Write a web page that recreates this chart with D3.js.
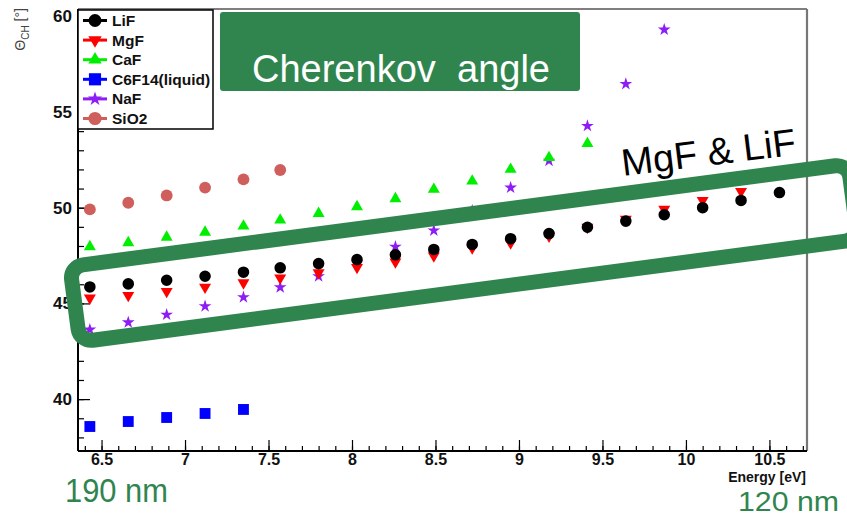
<!DOCTYPE html>
<html>
<head>
<meta charset="utf-8">
<script src="https://cdn.jsdelivr.net/npm/d3@7"></script>
<style>
  html, body { margin: 0; padding: 0; background: #fff; }
  svg { display: block; font-family: "Liberation Sans", Arial, Helvetica, sans-serif; }
  .bold { font-weight: bold; }
</style>
</head>
<body>
<svg id="chart" width="847" height="517"></svg>
<script>
// Photon energies (eV) of the sampled wavelengths
const energy = [6.43, 6.66, 6.89, 7.12, 7.35, 7.57, 7.80, 8.03, 8.26, 8.49,
                8.72, 8.95, 9.18, 9.41, 9.64, 9.87, 10.10, 10.33, 10.56];

// Cherenkov angle (degrees) per radiator, aligned with energy[]
const lifAngle   = [45.86, 46.02, 46.21, 46.42, 46.63, 46.86, 47.08, 47.29, 47.54, 47.82,
                    48.08, 48.38, 48.65, 48.98, 49.30, 49.63, 50.00, 50.38, 50.79];
const mgfAngle   = [45.28, 45.42, 45.63, 45.85, 46.08, 46.33, 46.60, 46.88, 47.17, 47.48,
                    47.90, 48.16, 48.52, 48.98, 49.40, 49.92, 50.38, 50.85];
const cafAngle   = [47.96, 48.17, 48.46, 48.72, 49.04, 49.35, 49.70, 50.05, 50.47, 50.96,
                    51.39, 52.00, 52.62, 53.35];
const c6f14Angle = [38.57, 38.83, 39.04, 39.25, 39.46];
const nafAngle   = [43.63, 44.01, 44.41, 44.85, 45.32, 45.84, 46.42, 47.15, 47.96, 48.81,
                    49.85, 51.05, 52.45, 54.27, 56.46, 59.30];
const sio2Angle  = [49.91, 50.26, 50.64, 51.05, 51.48, 51.97];

const legendNames = ["LiF", "MgF", "CaF", "C6F14(liquid)", "NaF", "SiO2"];

const xMajorTicks = [6.5, 7, 7.5, 8, 8.5, 9, 9.5, 10, 10.5];
const yMajorTicks = [40, 45, 50, 55, 60];

const xTitle = "Energy [eV]";
const titleText = ["Cherenkov", "angle"];
const bandText = "MgF & LiF";
const wlLow = "190 nm";
const wlHigh = "120 nm";

const GREEN = "#30854f";

const svg = d3.select("#chart");

// Frame geometry
const frameL = 78, frameR = 807, frameT = 9, frameB = 451;

const x = d3.scaleLinear().domain([6.359, 10.725]).range([frameL, frameR]);
const y = d3.scaleLinear().domain([37.29, 60.38]).range([frameB, frameT]);

// Series styling, in drawing order
const series = [
  { name: "SiO2", values: sio2Angle, color: "#cf5f5c", shape: d3.symbolCircle, size: 110, rot: 0 },
  { name: "C6F14(liquid)", values: c6f14Angle, color: "#0000ff", shape: d3.symbolSquare, size: 118, rot: 0 },
  { name: "NaF", values: nafAngle, color: "#8e1cf5", shape: d3.symbolStar, size: 50, rot: 0 },
  { name: "MgF", values: mgfAngle, color: "#ff0000", shape: d3.symbolTriangle, size: 62, rot: 180 },
  { name: "CaF", values: cafAngle, color: "#00ee00", shape: d3.symbolTriangle, size: 62, rot: 0 },
  { name: "LiF", values: lifAngle, color: "#000000", shape: d3.symbolCircle, size: 105, rot: 0 }
];

// Axes: minor ticks first, then labelled major ticks (ticks point inward)
const xMinor = d3.range(64, 108).map(v => v / 10);
const yMinor = d3.range(38, 61);

svg.append("g")
  .attr("transform", `translate(0,${frameB})`)
  .call(d3.axisBottom(x).tickValues(xMinor).tickSize(-5).tickFormat(""))
  .call(g => g.select(".domain").remove())
  .call(g => g.selectAll("line").attr("stroke", "#000").attr("stroke-width", 1.2));

svg.append("g")
  .attr("transform", `translate(${frameL},0)`)
  .call(d3.axisLeft(y).tickValues(yMinor).tickSize(-6).tickFormat(""))
  .call(g => g.select(".domain").remove())
  .call(g => g.selectAll("line").attr("stroke", "#000").attr("stroke-width", 1.2));

svg.append("g")
  .attr("transform", `translate(0,${frameB})`)
  .call(d3.axisBottom(x).tickValues(xMajorTicks).tickSize(-11).tickPadding(8)
        .tickFormat(d => String(d)))
  .call(g => g.select(".domain").remove())
  .call(g => g.selectAll("line").attr("stroke", "#000").attr("stroke-width", 1.2))
  .call(g => g.selectAll("text")
        .attr("class", "bold")
        .attr("font-family", "'Liberation Sans', Arial, sans-serif")
        .attr("font-size", 16).attr("fill", "#111")
        .attr("y", 3).attr("dy", "0.71em"));

svg.append("g")
  .attr("transform", `translate(${frameL},0)`)
  .call(d3.axisLeft(y).tickValues(yMajorTicks).tickSize(-12).tickPadding(6)
        .tickFormat(d => String(d)))
  .call(g => g.select(".domain").remove())
  .call(g => g.selectAll("line").attr("stroke", "#000").attr("stroke-width", 1.2))
  .call(g => g.selectAll("text")
        .attr("class", "bold")
        .attr("font-family", "'Liberation Sans', Arial, sans-serif")
        .attr("font-size", 17).attr("fill", "#111"));

// Frame lines
svg.append("line").attr("x1", frameL).attr("x2", frameR).attr("y1", frameT).attr("y2", frameT)
  .attr("stroke", "#555").attr("stroke-width", 1.6);
svg.append("line").attr("x1", frameR).attr("x2", frameR).attr("y1", frameT).attr("y2", frameB)
  .attr("stroke", "#777").attr("stroke-width", 2.2);
svg.append("line").attr("x1", frameL).attr("x2", frameL).attr("y1", frameT).attr("y2", frameB)
  .attr("stroke", "#000").attr("stroke-width", 2);
svg.append("line").attr("x1", frameL).attr("x2", frameR).attr("y1", frameB).attr("y2", frameB)
  .attr("stroke", "#000").attr("stroke-width", 2);

// Data markers
const marks = svg.append("g");
series.forEach(s => {
  const sym = d3.symbol().type(s.shape).size(s.size);
  marks.append("g").selectAll("path")
    .data(s.values.map((v, i) => ({ e: energy[i], a: v })))
    .join("path")
    .attr("d", sym)
    .attr("fill", s.color)
    .attr("transform", d => `translate(${x(d.e)},${y(d.a)}) rotate(${s.rot})`);
});

// Axis titles
svg.append("text")
  .attr("class", "bold")
  .attr("x", frameR - 1).attr("y", 482)
  .attr("text-anchor", "end")
  .attr("font-size", 14).attr("fill", "#111")
  .text(xTitle);

const yt = svg.append("text")
  .attr("transform", "translate(25,8) rotate(-90)")
  .attr("text-anchor", "end")
  .attr("font-size", 14).attr("fill", "#444");
yt.append("tspan").text("\u0398");
yt.append("tspan").attr("font-size", 10).attr("dy", 4).text("CH");
yt.append("tspan").attr("dy", -4).text(" [\u00B0]");

// Legend
const lg = svg.append("g");
lg.append("rect").attr("x", frameL).attr("y", 10).attr("width", 135).attr("height", 119)
  .attr("fill", "#fff").attr("stroke", "#000").attr("stroke-width", 1.5);
legendNames.forEach((name, i) => {
  const s = series.find(d => d.name === name);
  const cy = 20.5 + i * 19.6;
  lg.append("line").attr("x1", 83).attr("x2", 107).attr("y1", cy).attr("y2", cy)
    .attr("stroke", s.color).attr("stroke-width", 3);
  lg.append("path").attr("d", d3.symbol().type(s.shape).size(s.size * 1.25))
    .attr("fill", s.color)
    .attr("transform", `translate(95,${cy}) rotate(${s.rot})`);
  lg.append("text").attr("class", "bold").attr("x", 112).attr("y", cy + 5.5)
    .attr("font-size", 15.5).attr("fill", "#111")
    .text(name);
});

// Highlight band around the MgF / LiF points
svg.append("g")
  .attr("transform", "translate(464,253) rotate(-7.5)")
  .append("rect")
  .attr("x", -392.5).attr("y", -38).attr("width", 785).attr("height", 76)
  .attr("rx", 13).attr("ry", 13)
  .attr("fill", "none").attr("stroke", GREEN).attr("stroke-width", 15);

svg.append("text")
  .attr("transform", "translate(623,176) rotate(-7)")
  .attr("font-size", 38).attr("fill", "#000")
  .text(bandText);

// Title box
svg.append("rect").attr("x", 220).attr("y", 12).attr("width", 360).attr("height", 79)
  .attr("rx", 3).attr("fill", GREEN);
svg.append("text").attr("x", 252).attr("y", 81.5)
  .attr("font-size", 38).attr("fill", "#fff").text(titleText[0]);
svg.append("text").attr("x", 457).attr("y", 81.5)
  .attr("font-size", 38).attr("fill", "#fff").text(titleText[1]);

// Wavelength annotations at the ends of the energy axis
svg.append("text").attr("x", 65).attr("y", 502)
  .attr("font-size", 34).attr("fill", GREEN)
  .attr("textLength", 103).attr("lengthAdjust", "spacingAndGlyphs")
  .text(wlLow);
svg.append("text").attr("x", 738).attr("y", 511)
  .attr("font-size", 28).attr("fill", GREEN)
  .attr("textLength", 101).attr("lengthAdjust", "spacingAndGlyphs")
  .text(wlHigh);
</script>
</body>
</html>
